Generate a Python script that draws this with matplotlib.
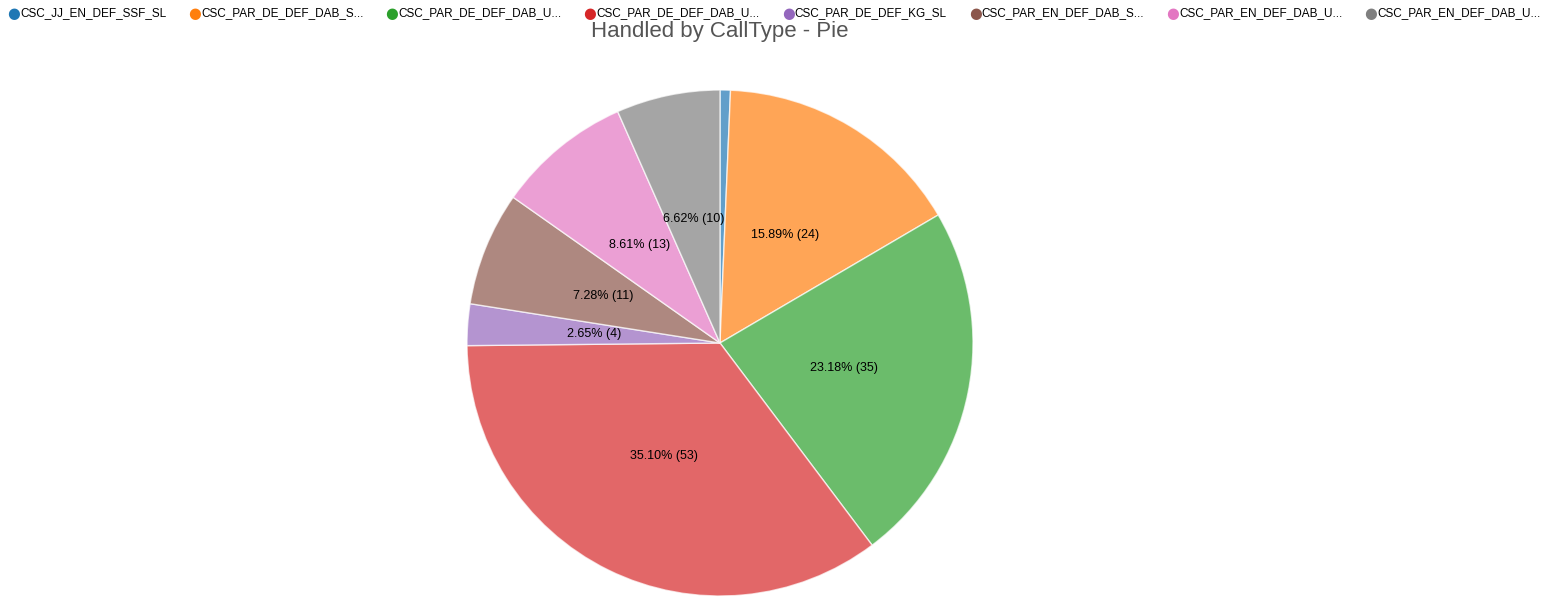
import matplotlib.pyplot as plt

labels = ['CSC_JJ_EN_DEF_SSF_SL', 'CSC_PAR_DE_DEF_DAB_S...', 'CSC_PAR_DE_DEF_DAB_U...',
          'CSC_PAR_DE_DEF_DAB_U...', 'CSC_PAR_DE_DEF_KG_SL', 'CSC_PAR_EN_DEF_DAB_S...',
          'CSC_PAR_EN_DEF_DAB_U...', 'CSC_PAR_EN_DEF_DAB_U...']
counts = [1, 24, 35, 53, 4, 11, 13, 10]
colors = ['#1f77b4', '#ff7f0e', '#2ca02c', '#d62728', '#9467bd', '#8c564b', '#e377c2', '#7f7f7f']

W, H = 1553, 601
fig = plt.figure(figsize=(W / 100, H / 100), dpi=100)

cx, cy, r = 720, 343, 253
ax = fig.add_axes([(cx - r) / W, (H - cy - r) / H, 2 * r / W, 2 * r / H])
total = sum(counts)


def fmt(pct):
    n = round(pct * total / 100)
    if pct < 1:
        return ''
    return f'{pct:.2f}% ({n})'


wedges, texts, autotexts = ax.pie(
    counts, colors=colors, startangle=90, counterclock=False,
    autopct=fmt, pctdistance=0.5,
    wedgeprops=dict(alpha=0.7, edgecolor='white', linewidth=1),
    textprops=dict(fontsize=9, color='black', family='Liberation Sans'))
for w in wedges:
    w.set_edgecolor((1, 1, 1, 1))
ax.set_xlim(-1.0, 1.0)
ax.set_ylim(-1.0, 1.0)
ax.set_aspect('auto')
ax.axis('off')

fig.text(cx / W, 1 - 32 / H, 'Handled by CallType - Pie', ha='center', va='center',
         fontsize=16, color='#555555', family='Liberation Sans')

# legend across the top, laid out left to right by text width
renderer = fig.canvas.get_renderer()
x0 = 7
for lab, c in zip(labels, colors):
    fig.text(x0 / W, 1 - 13 / H, '●', color=c, fontsize=10.5, ha='left', va='center',
             family='DejaVu Sans')
    t = fig.text((x0 + 13) / W, 1 - 13 / H, lab, color='black', fontsize=8.5, ha='left',
                 va='center', family='Liberation Sans')
    x0 += 13 + t.get_window_extent(renderer).width + 22

fig.savefig('out.png', dpi=100)
